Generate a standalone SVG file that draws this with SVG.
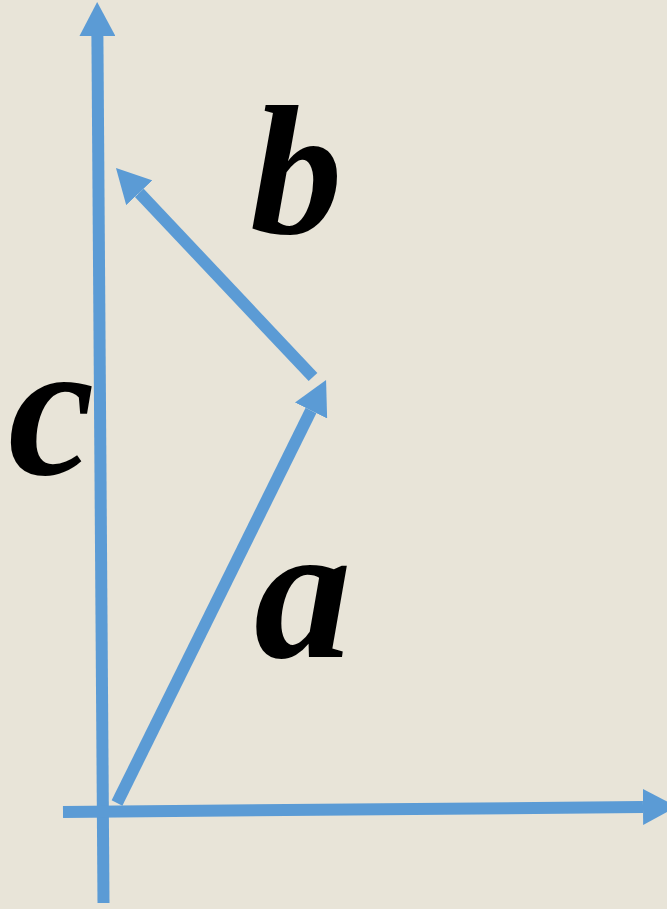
<svg xmlns="http://www.w3.org/2000/svg" width="667" height="909" viewBox="0 0 667 909">
<style>
.v{stroke:#5B9BD5;stroke-width:12;fill:none;stroke-linecap:butt}
.lbl{font-family:"Liberation Serif","DejaVu Serif",serif;font-weight:bold;font-style:italic;font-size:195px;fill:#000}
</style>
<defs>
<marker id="ah" viewBox="0 0 34 36" markerWidth="34" markerHeight="36" markerUnits="userSpaceOnUse" refX="0" refY="18" orient="auto">
<path d="M0,0 L34,18 L0,36 z" fill="#5B9BD5"/>
</marker>
</defs>
<rect width="667" height="909" fill="#E8E4D8"/>
<g id="connectors">
<line id="axis-y" class="v" x1="103.5" y1="903" x2="97.4" y2="36" marker-end="url(#ah)"/>
<line id="axis-x" class="v" x1="63" y1="812" x2="643" y2="807" marker-end="url(#ah)"/>
<line id="vec-a" class="v" x1="117" y1="803" x2="311" y2="410.5" marker-end="url(#ah)"/>
<line id="vec-b" class="v" x1="313" y1="377" x2="139.3" y2="192.8" marker-end="url(#ah)"/>
</g>
<g id="label-c"><text class="lbl" x="8" y="474">c</text></g>
<g id="label-b"><text class="lbl" x="250" y="233" style="font-size:185px">b</text></g>
<g id="label-a"><text class="lbl" x="254" y="657">a</text></g>
</svg>
